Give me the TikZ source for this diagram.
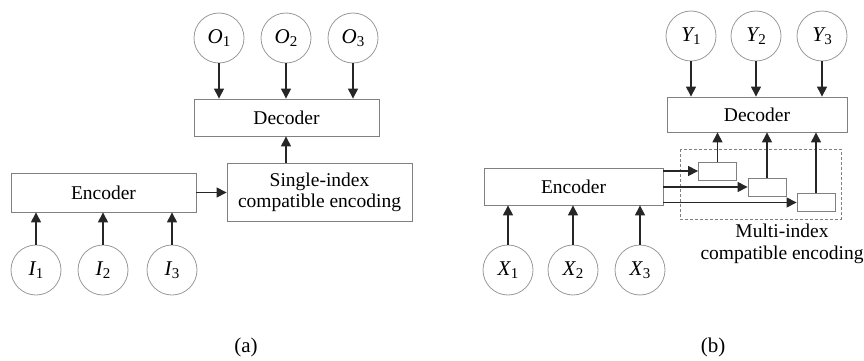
\documentclass[tikz,border=0pt]{standalone}
\usepackage{fontspec}
\setmainfont{Liberation Serif}
\usetikzlibrary{arrows.meta}
\newcommand{\vsub}[2]{{\itshape #1}\kern0.3pt\raisebox{-0.35ex}{\fontsize{15}{15}\selectfont #2}}
\begin{document}
\begin{tikzpicture}[x=1pt,y=-1pt,
  every node/.style={font=\fontsize{19.5}{22}\selectfont},
  varc/.style={circle,draw=black!40,line width=0.8pt,minimum size=50pt,inner sep=0pt,font=\fontsize{21}{22}\selectfont},
  blockbox/.style={draw=black!50,line width=0.8pt,inner sep=0pt},
  smallbox/.style={draw=black!50,line width=0.8pt,inner sep=0pt,minimum width=38pt,minimum height=18pt},
  arr/.style={-{Triangle[length=10pt,width=10pt]},line width=1.1pt,black!85}]
\useasboundingbox (0,0) rectangle (864,361);
% ---------- panel (a)
\node[varc] (O1) at (219,38) {\vsub{O}{1}};
\node[varc] (O2) at (286,38) {\vsub{O}{2}};
\node[varc] (O3) at (353,38) {\vsub{O}{3}};
\node[blockbox,minimum width=185pt,minimum height=37pt] (decA) at (286.5,117.5) {Decoder};
\node[blockbox,minimum width=185pt,minimum height=58pt,align=center,font=\fontsize{19.5}{21}\selectfont] (sie) at (319.5,192) {Single-index\\compatible encoding};
\node[blockbox,minimum width=185pt,minimum height=39pt] (encA) at (103.5,192.5) {Encoder};
\node[varc] (I1) at (36,270) {\vsub{I}{1}};
\node[varc] (I2) at (103,270) {\vsub{I}{2}};
\node[varc] (I3) at (172,270) {\vsub{I}{3}};
\foreach \i in {1,2,3} {
  \draw[arr] (O\i.south) -- (O\i.south |- decA.north);
  \draw[arr] (I\i.north) -- (I\i.north |- encA.south);
}
\draw[arr] (sie.north -| O2) -- (decA.south -| O2);
\draw[arr] (encA.east) -- (sie.west |- encA.east);
\node[font=\fontsize{21}{22}\selectfont] (capA) at (246,347) {(a)};
% ---------- panel (b)
\node[varc] (Y1) at (691,36) {\vsub{Y}{1}};
\node[varc] (Y2) at (756,36) {\vsub{Y}{2}};
\node[varc] (Y3) at (822,36) {\vsub{Y}{3}};
\node[blockbox,minimum width=180pt,minimum height=35pt] (decB) at (757,114.5) {Decoder};
\node[blockbox,minimum width=179pt,minimum height=37pt] (encB) at (573.5,186.5) {Encoder};
\draw[black!50,line width=0.6pt,dash pattern=on 3pt off 2pt] (680,149) rectangle (841,219);
\node[smallbox] (b1) at (717.5,171) {};
\node[smallbox] (b2) at (767,187) {};
\node[smallbox] (b3) at (816,202.5) {};
\node[varc] (X1) at (508,270) {\vsub{X}{1}};
\node[varc] (X2) at (573,270) {\vsub{X}{2}};
\node[varc] (X3) at (640,270) {\vsub{X}{3}};
\foreach \i in {1,2,3} {
  \draw[arr] (Y\i.south) -- (Y\i.south |- decB.north);
  \draw[arr] (X\i.north) -- (X\i.north |- encB.south);
  \draw[arr] (b\i.north) -- (b\i.north |- decB.south);
  \draw[arr] (encB.east |- b\i.west) -- (b\i.west);
}
\node[align=center,font=\fontsize{19.5}{22}\selectfont] (mlab) at (782,244) {Multi-index\\compatible encoding};
\node[font=\fontsize{21}{22}\selectfont] (capB) at (713,347) {(b)};
\end{tikzpicture}
\end{document}
